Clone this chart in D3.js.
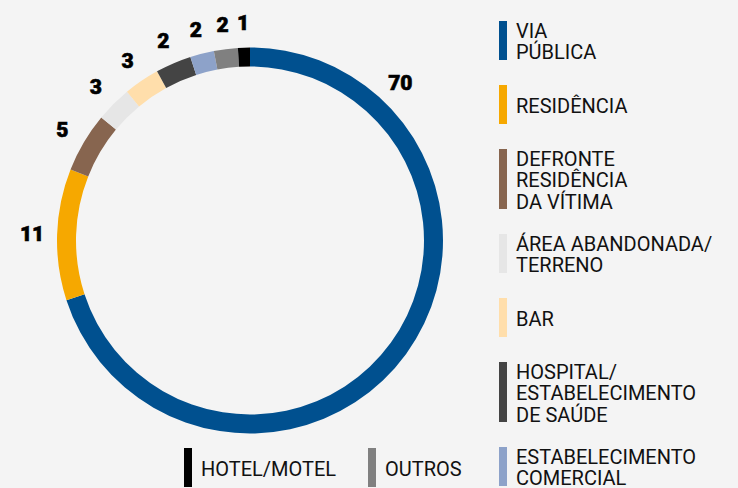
<!DOCTYPE html>
<html>
<head>
<meta charset="utf-8">
<script src="https://cdn.jsdelivr.net/npm/d3@7"></script>
<style>
  body { margin: 0; background: #f4f4f4; }
  svg { display: block; }
</style>
</head>
<body>
<svg></svg>
<script>
// slices clockwise from 12 o'clock
var categories = ["VIA PÚBLICA", "RESIDÊNCIA", "DEFRONTE RESIDÊNCIA DA VÍTIMA",
    "ÁREA ABANDONADA/ TERRENO", "BAR", "HOSPITAL/ ESTABELECIMENTO DE SAÚDE",
    "ESTABELECIMENTO COMERCIAL", "OUTROS", "HOTEL/MOTEL"];
var values = [70, 11, 5, 3, 3, 3, 2, 2, 1];
var valueLabels = ["70", "11", "5", "3", "3", "2", "2", "2", "1"];
var colors = ["#00508f", "#f6a800", "#87654f", "#e6e6e6", "#ffdeab",
    "#444444", "#8da2c9", "#808080", "#000000"];

// legend text split into lines
var legendLines = [
    ["VIA", "PÚBLICA"],
    ["RESIDÊNCIA"],
    ["DEFRONTE", "RESIDÊNCIA", "DA VÍTIMA"],
    ["ÁREA ABANDONADA/", "TERRENO"],
    ["BAR"],
    ["HOSPITAL/", "ESTABELECIMENTO", "DE SAÚDE"],
    ["ESTABELECIMENTO", "COMERCIAL"],
    ["OUTROS"],
    ["HOTEL/MOTEL"]
];

var size = {width: 738, height: 488};
var center = {x: 250, y: 240.5};
var outerR = 193, innerR = 174, labelR = 218;

var svg = d3.select("svg")
    .attr("width", size.width)
    .attr("height", size.height);

svg.append("rect")
    .attr("width", size.width)
    .attr("height", size.height)
    .attr("fill", "#f4f4f4");

var data = categories.map(function(c, i){
    return {name: c, value: values[i], label: valueLabels[i], color: colors[i], lines: legendLines[i]};
});

var pie = d3.pie()
    .sort(null)
    .value(function(d){ return d.value; });

var arcs = pie(data);

var arc = d3.arc()
    .innerRadius(innerR)
    .outerRadius(outerR);

var donut = svg.append("g")
    .attr("transform", "translate(" + center.x + "," + center.y + ")");

donut.selectAll("path")
    .data(arcs)
    .enter()
    .append("path")
    .attr("d", arc)
    .attr("fill", function(d){ return d.data.color; });

// big slice gets its label near its start, the rest at the middle
var labelAngle = function(d, i){
    return i == 0 ? d.startAngle + (d.endAngle - d.startAngle) * 0.173 : (d.startAngle + d.endAngle) / 2;
};

donut.selectAll("text")
    .data(arcs)
    .enter()
    .append("text")
    .attr("x", function(d, i){ return labelR * Math.sin(labelAngle(d, i)); })
    .attr("y", function(d, i){ return -labelR * Math.cos(labelAngle(d, i)); })
    .attr("dy", "0.36em")
    .attr("text-anchor", "middle")
    .attr("font-family", "Roboto, 'DejaVu Sans', sans-serif")
    .attr("font-weight", 900)
    .attr("font-size", "21px")
    .attr("fill", "#000")
    .attr("stroke", "#000")
    .attr("stroke-width", 0.6)
    .text(function(d){ return d.data.label; });

// legend: right column, then the two leftovers along the bottom
var lineH = 21.5;
var swatchH = function(d){ return d.lines.length > 2 ? 60 : 39; };

var rowY = 21;
data.forEach(function(d, i){
    if (i < 7) {
        d.lx = 499;
        d.ly = rowY;
        rowY += swatchH(d) + 25;
    }
});
data[7].lx = 368; data[7].ly = 448;
data[8].lx = 184; data[8].ly = 448;

var legend = svg.append("g");

var item = legend.selectAll("g")
    .data(data)
    .enter()
    .append("g")
    .attr("transform", function(d){ return "translate(" + d.lx + "," + d.ly + ")"; });

item.append("rect")
    .attr("width", 8)
    .attr("height", swatchH)
    .attr("fill", function(d){ return d.color; });

item.append("text")
    .attr("font-family", "Roboto, sans-serif")
    .attr("font-size", "20px")
    .attr("fill", "#111")
    .selectAll("tspan")
    .data(function(d){
        return d.lines.map(function(l, j){ return {t: l, j: j, n: d.lines.length}; });
    })
    .enter()
    .append("tspan")
    .attr("x", 17)
    .attr("y", function(l){
        return l.n == 1 ? 27.5 : 16.5 + l.j * lineH;
    })
    .text(function(l){ return l.t; });
</script>
</body>
</html>
